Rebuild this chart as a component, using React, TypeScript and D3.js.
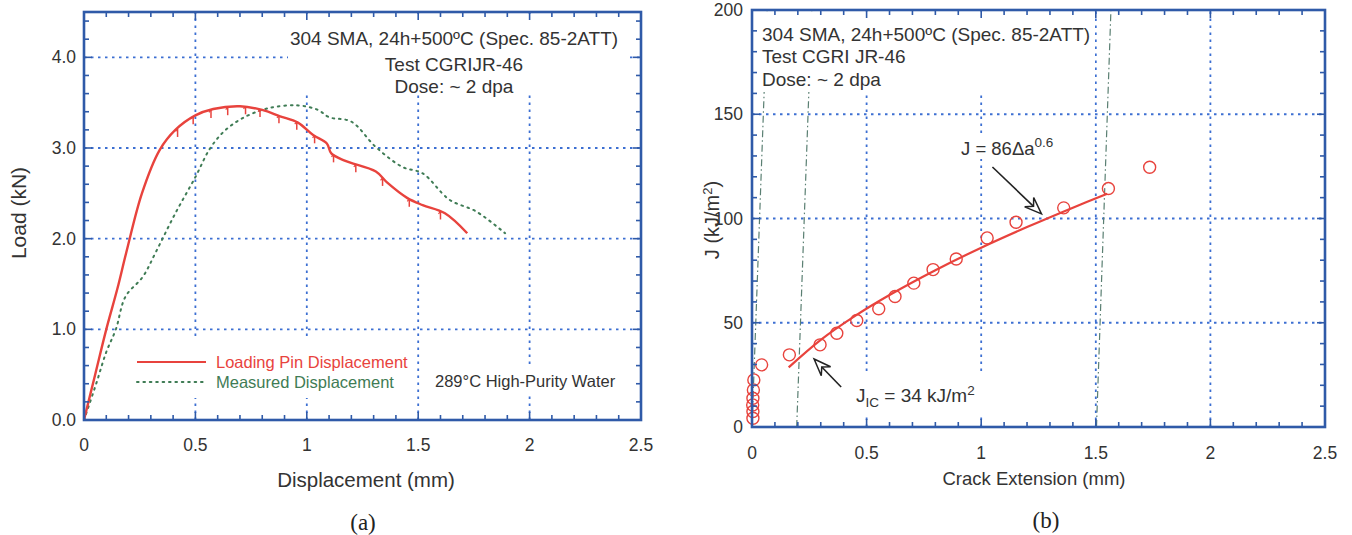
import React from "react";
import * as d3 from "d3";

// ---------- data (left panel: load vs displacement) ----------
const pinDisp: [number, number][] = [
  [0, 0], [0.05, 0.5], [0.1, 1.0], [0.15, 1.45], [0.19, 1.85], [0.26, 2.5], [0.34, 2.98], [0.41, 3.2],
  [0.5, 3.36], [0.58, 3.43], [0.7, 3.46], [0.8, 3.42], [0.88, 3.35], [0.96, 3.28],
  [1.03, 3.14], [1.09, 3.05], [1.11, 2.94], [1.17, 2.86], [1.31, 2.74], [1.36, 2.62],
  [1.45, 2.45], [1.52, 2.37], [1.62, 2.28], [1.72, 2.06],
];
const measDisp: [number, number][] = [
  [0, 0], [0.056, 0.41], [0.1, 0.75], [0.143, 1.0], [0.186, 1.36], [0.264, 1.58], [0.324, 1.86],
  [0.41, 2.28], [0.5, 2.68], [0.567, 3.0], [0.636, 3.2], [0.72, 3.34], [0.83, 3.44],
  [0.96, 3.47], [1.05, 3.42], [1.1, 3.34], [1.2, 3.29], [1.31, 3.01], [1.43, 2.79],
  [1.52, 2.72], [1.64, 2.43], [1.76, 2.3], [1.89, 2.06],
];
const unloadMarks: [number, number][] = [
  [0.42, 3.21], [0.49, 3.35], [0.57, 3.42], [0.645, 3.45], [0.725, 3.46], [0.79, 3.43],
  [0.875, 3.36], [0.955, 3.29], [1.035, 3.14], [1.12, 2.93], [1.22, 2.82], [1.34, 2.67],
  [1.46, 2.44], [1.6, 2.3],
];
const leftXTicks = [0, 0.5, 1, 1.5, 2, 2.5];
const leftXTickLabels = ["0", "0.5", "1", "1.5", "2", "2.5"];
const leftYTicks = [0, 1, 2, 3, 4];
const leftYTickLabels = ["0.0", "1.0", "2.0", "3.0", "4.0"];
const leftNote = ["304 SMA, 24h+500ºC (Spec. 85-2ATT)", "Test CGRIJR-46", "Dose: ~ 2 dpa"];
const legendLabels = ["Loading Pin Displacement", "Measured Displacement"];

// ---------- data (right panel: J-R curve) ----------
const jrPoints: [number, number][] = [
  [0.004, 4.2], [0.004, 7.4], [0.003, 10.6], [0.004, 13.8], [0.006, 17.8], [0.008, 22.6],
  [0.042, 29.8], [0.163, 34.6], [0.297, 39.4], [0.37, 45], [0.457, 51.1], [0.553, 56.7],
  [0.624, 62.6], [0.706, 69], [0.79, 75.5], [0.891, 80.6], [1.026, 90.7], [1.152, 98.2],
  [1.36, 105.1], [1.555, 114.4], [1.735, 124.6],
];
const fitCurve: [number, number][] = [
  [0.16, 28.6], [0.3, 41.8], [0.45, 53.3], [0.6, 63.3], [0.8, 75.2], [1.0, 86],
  [1.2, 95.9], [1.4, 105.2], [1.55, 111.9],
];
const constructionLines: [number, number][][] = [
  [[0, 0], [0.066, 200]],
  [[0.195, 0], [0.261, 200]],
  [[1.503, 0], [1.566, 200]],
];
const rightXTicks = [0, 0.5, 1, 1.5, 2, 2.5];
const rightXTickLabels = ["0", "0.5", "1", "1.5", "2", "2.5"];
const rightYTicks = [0, 50, 100, 150, 200];
const rightYTickLabels = ["0", "50", "100", "150", "200"];
const rightNote = ["304 SMA, 24h+500ºC (Spec. 85-2ATT)", "Test CGRI JR-46", "Dose: ~ 2 dpa"];
// arrows: [tail, tip] in data coordinates
const fitArrow: [number, number][] = [[1.049, 124.7], [1.263, 102.2]];
const jicArrow: [number, number][] = [[0.389, 19.2], [0.271, 32.6]];

// ---------- style ----------
const SANS = "'Liberation Sans', Arial, sans-serif";
const SERIF = "'Liberation Serif', 'Times New Roman', serif";
const FRAME = "#2f5aa8";
const GRID = "#3c6fd2";
const RED = "#e8433d";
const GREEN = "#3f7c55";
const TXT = "#333";
const CONSTR = "#5a7f72";

const W = 1352, H = 535;

function Arrow({ x1, y1, x2, y2 }: { x1: number; y1: number; x2: number; y2: number }) {
  const ang = Math.atan2(y2 - y1, x2 - x1);
  const L = 17, hw = 6.5, notch = 11;
  const c = Math.cos(ang), s = Math.sin(ang);
  const px = (d: number, w: number) => [x2 - c * d - s * w, y2 - s * d + c * w];
  const a = px(L, hw), b = px(L, -hw), n = px(notch, 0);
  return (
    <g>
      <line x1={x1} y1={y1} x2={n[0]} y2={n[1]} stroke="#222" strokeWidth={1.6} />
      <polygon points={`${x2},${y2} ${a[0]},${a[1]} ${n[0]},${n[1]} ${b[0]},${b[1]}`} fill="#fff" stroke="#222" strokeWidth={1.5} strokeLinejoin="miter" />
    </g>
  );
}

function Frame({ x, y, minorX, majorX, minorY, majorY }: any) {
  const [x0, x1] = x.range();
  const [y0, y1] = y.range();
  return (
    <g>
      {minorX.map((v: number, i: number) => {
        const big = majorX.includes(v);
        const l = big ? 8 : 5;
        return (
          <g key={"tx" + i}>
            <line x1={x(v)} x2={x(v)} y1={y0} y2={y0 - l} stroke={FRAME} strokeWidth={1.6} />
            <line x1={x(v)} x2={x(v)} y1={y1} y2={y1 + l} stroke={FRAME} strokeWidth={1.6} />
          </g>
        );
      })}
      {minorY.map((v: number, i: number) => {
        const big = majorY.includes(v);
        const l = big ? 8 : 5;
        return (
          <g key={"ty" + i}>
            <line y1={y(v)} y2={y(v)} x1={x0} x2={x0 + l} stroke={FRAME} strokeWidth={1.6} />
            <line y1={y(v)} y2={y(v)} x1={x1} x2={x1 - l} stroke={FRAME} strokeWidth={1.6} />
          </g>
        );
      })}
      <rect x={x0} y={y1} width={x1 - x0} height={y0 - y1} fill="none" stroke={FRAME} strokeWidth={2.6} />
    </g>
  );
}

export default function App() {
  // left scales
  const xL = d3.scaleLinear().domain([0, 2.5]).range([84, 641]);
  const yL = d3.scaleLinear().domain([0, 4.5]).range([420, 12]);
  // right scales
  const xR = d3.scaleLinear().domain([0, 2.5]).range([752, 1325]);
  const yR = d3.scaleLinear().domain([0, 200]).range([427, 10]);

  const lineL = d3.line<[number, number]>().x((d) => xL(d[0])).y((d) => yL(d[1])).curve(d3.curveCatmullRom.alpha(0.5));
  const lineR = d3.line<[number, number]>().x((d) => xR(d[0])).y((d) => yR(d[1])).curve(d3.curveCatmullRom.alpha(0.5));
  const lineRStraight = d3.line<[number, number]>().x((d) => xR(d[0])).y((d) => yR(d[1]));

  const minorXL = d3.range(0, 2.5001, 0.1).map((v) => +v.toFixed(2));
  const minorYL = d3.range(0, 4.5001, 0.2).map((v) => +v.toFixed(2));
  const minorXR = d3.range(0, 2.5001, 0.1).map((v) => +v.toFixed(2));
  const minorYR = d3.range(0, 200.001, 10).map((v) => +v.toFixed(2));

  const gridStyle = { stroke: GRID, strokeWidth: 1.8, strokeDasharray: "2.5,4.5", fill: "none" };

  return (
    <svg width={W} height={H} style={{ position: "absolute", left: 0, top: 0, background: "#fff" }} fontFamily={SANS}>
      <rect x={0} y={0} width={W} height={H} fill="#fff" />

      {/* ================= LEFT PANEL ================= */}
      <g>
        {[0.5, 1, 1.5, 2].map((v) => (
          <line key={"gvl" + v} x1={xL(v)} x2={xL(v)} y1={yL(0)} y2={yL(4.5)} {...gridStyle} />
        ))}
        {[1, 2, 3, 4].map((v) => (
          <line key={"ghl" + v} y1={yL(v)} y2={yL(v)} x1={xL(0)} x2={xL(2.5)} {...gridStyle} />
        ))}
        {/* white boxes behind text */}
        <rect x={288} y={14} width={338} height={81} fill="#fff" />
        <rect x={125} y={340} width={290} height={58} fill="#fff" />
        <rect x={430} y={368} width={194} height={26} fill="#fff" />

        <path d={lineL(measDisp) || ""} fill="none" stroke={GREEN} strokeWidth={2} strokeDasharray="1.6,4.8" strokeLinecap="round" />
        <path d={lineL(pinDisp) || ""} fill="none" stroke={RED} strokeWidth={2.4} />
        {unloadMarks.map((m, i) => (
          <g key={"um" + i}>
            <line x1={xL(m[0])} x2={xL(m[0])} y1={yL(m[1])} y2={yL(m[1]) + 8} stroke={RED} strokeWidth={1.5} />
            <line x1={xL(m[0]) - 2} x2={xL(m[0])} y1={yL(m[1]) + 2.5} y2={yL(m[1])} stroke={RED} strokeWidth={1.2} />
          </g>
        ))}

        <Frame x={xL} y={yL} minorX={minorXL} majorX={leftXTicks} minorY={minorYL} majorY={leftYTicks} />

        {leftXTicks.map((v, i) => (
          <text key={"xlL" + i} x={xL(v)} y={445} dy="0.35em" textAnchor="middle" fontSize={17.5} fill={TXT}>{leftXTickLabels[i]}</text>
        ))}
        {leftYTicks.map((v, i) => (
          <text key={"ylL" + i} x={76} y={yL(v)} dy="0.35em" textAnchor="end" fontSize={17.5} fill={TXT}>{leftYTickLabels[i]}</text>
        ))}
        <text x={366} y={480} dy="0.35em" textAnchor="middle" fontSize={20.5} fill={TXT}>Displacement (mm)</text>
        <text transform={`translate(19,213) rotate(-90)`} dy="0.35em" textAnchor="middle" fontSize={21} fill={TXT}>Load (kN)</text>

        {leftNote.map((t, i) => (
          <text key={"ln" + i} x={454} y={[38, 64, 86][i]} dy="0.35em" textAnchor="middle" fontSize={19} fill={TXT}>{t}</text>
        ))}

        <line x1={137} x2={206} y1={362} y2={362} stroke={RED} strokeWidth={2.2} />
        <text x={216} y={362} dy="0.35em" fontSize={16.5} fill={RED}>{legendLabels[0]}</text>
        <line x1={137} x2={206} y1={382} y2={382} stroke={GREEN} strokeWidth={2} strokeDasharray="1.6,4.8" strokeLinecap="round" />
        <text x={216} y={382} dy="0.35em" fontSize={16.5} fill={GREEN}>{legendLabels[1]}</text>
        <text x={435} y={381} dy="0.35em" fontSize={16.5} fill={TXT}>289°C High-Purity Water</text>

        <text x={363} y={522} dy="0.35em" textAnchor="middle" fontSize={23} fontFamily={SERIF} fill="#222">(a)</text>
      </g>

      {/* ================= RIGHT PANEL ================= */}
      <g>
        {[0.5, 1, 1.5, 2].map((v) => (
          <line key={"gvr" + v} x1={xR(v)} x2={xR(v)} y1={yR(0)} y2={yR(200)} {...gridStyle} />
        ))}
        {[50, 100, 150].map((v) => (
          <line key={"ghr" + v} y1={yR(v)} y2={yR(v)} x1={xR(0)} x2={xR(2.5)} {...gridStyle} />
        ))}
        {constructionLines.map((l, i) => (
          <path key={"cl" + i} d={lineRStraight(l) || ""} fill="none" stroke={CONSTR} strokeWidth={1.2} strokeDasharray="7,3,1.5,3" />
        ))}
        {/* white boxes behind text */}
        <rect x={754} y={12} width={341} height={80} fill="#fff" />
        <rect x={957} y={135} width={104} height={24} fill="#fff" />
        <rect x={850} y={372} width={140} height={42} fill="#fff" />

        <path d={lineR(fitCurve) || ""} fill="none" stroke={RED} strokeWidth={2.2} />
        {jrPoints.map((p, i) => (
          <circle key={"jp" + i} cx={xR(p[0])} cy={yR(p[1])} r={6} fill="none" stroke={RED} strokeWidth={1.4} />
        ))}

        <Frame x={xR} y={yR} minorX={minorXR} majorX={rightXTicks} minorY={minorYR} majorY={rightYTicks} />

        {rightXTicks.map((v, i) => (
          <text key={"xlR" + i} x={xR(v)} y={453} dy="0.35em" textAnchor="middle" fontSize={17.5} fill={TXT}>{rightXTickLabels[i]}</text>
        ))}
        {rightYTicks.map((v, i) => (
          <text key={"ylR" + i} x={743} y={yR(v)} dy="0.35em" textAnchor="end" fontSize={17.5} fill={TXT}>{rightYTickLabels[i]}</text>
        ))}
        <text x={1034} y={479} dy="0.35em" textAnchor="middle" fontSize={18.5} fill={TXT}>Crack Extension (mm)</text>
        <text transform={`translate(712,220) rotate(-90)`} dy="0.35em" textAnchor="middle" fontSize={20} fill={TXT}>
          J (kJ/m<tspan dy={-7} fontSize={13}>2</tspan><tspan dy={7}>)</tspan>
        </text>

        {rightNote.map((t, i) => (
          <text key={"rn" + i} x={762} y={[34, 56, 79][i]} dy="0.35em" fontSize={19} fill={TXT}>{t}</text>
        ))}

        <text x={961} y={155} fontSize={18.5} fill={TXT}>
          J = 86Δa<tspan dy={-8} fontSize={13.5}>0.6</tspan>
        </text>
        <text x={856} y={402} fontSize={19} fill={TXT}>
          J<tspan dy={5} fontSize={13.5}>IC</tspan><tspan dy={-5}> = 34 kJ/m</tspan><tspan dy={-7} fontSize={13.5}>2</tspan>
        </text>
        <Arrow x1={xR(fitArrow[0][0])} y1={yR(fitArrow[0][1])} x2={xR(fitArrow[1][0])} y2={yR(fitArrow[1][1])} />
        <Arrow x1={xR(jicArrow[0][0])} y1={yR(jicArrow[0][1])} x2={xR(jicArrow[1][0])} y2={yR(jicArrow[1][1])} />

        <text x={1046} y={520} dy="0.35em" textAnchor="middle" fontSize={23} fontFamily={SERIF} fill="#222">(b)</text>
      </g>
    </svg>
  );
}
